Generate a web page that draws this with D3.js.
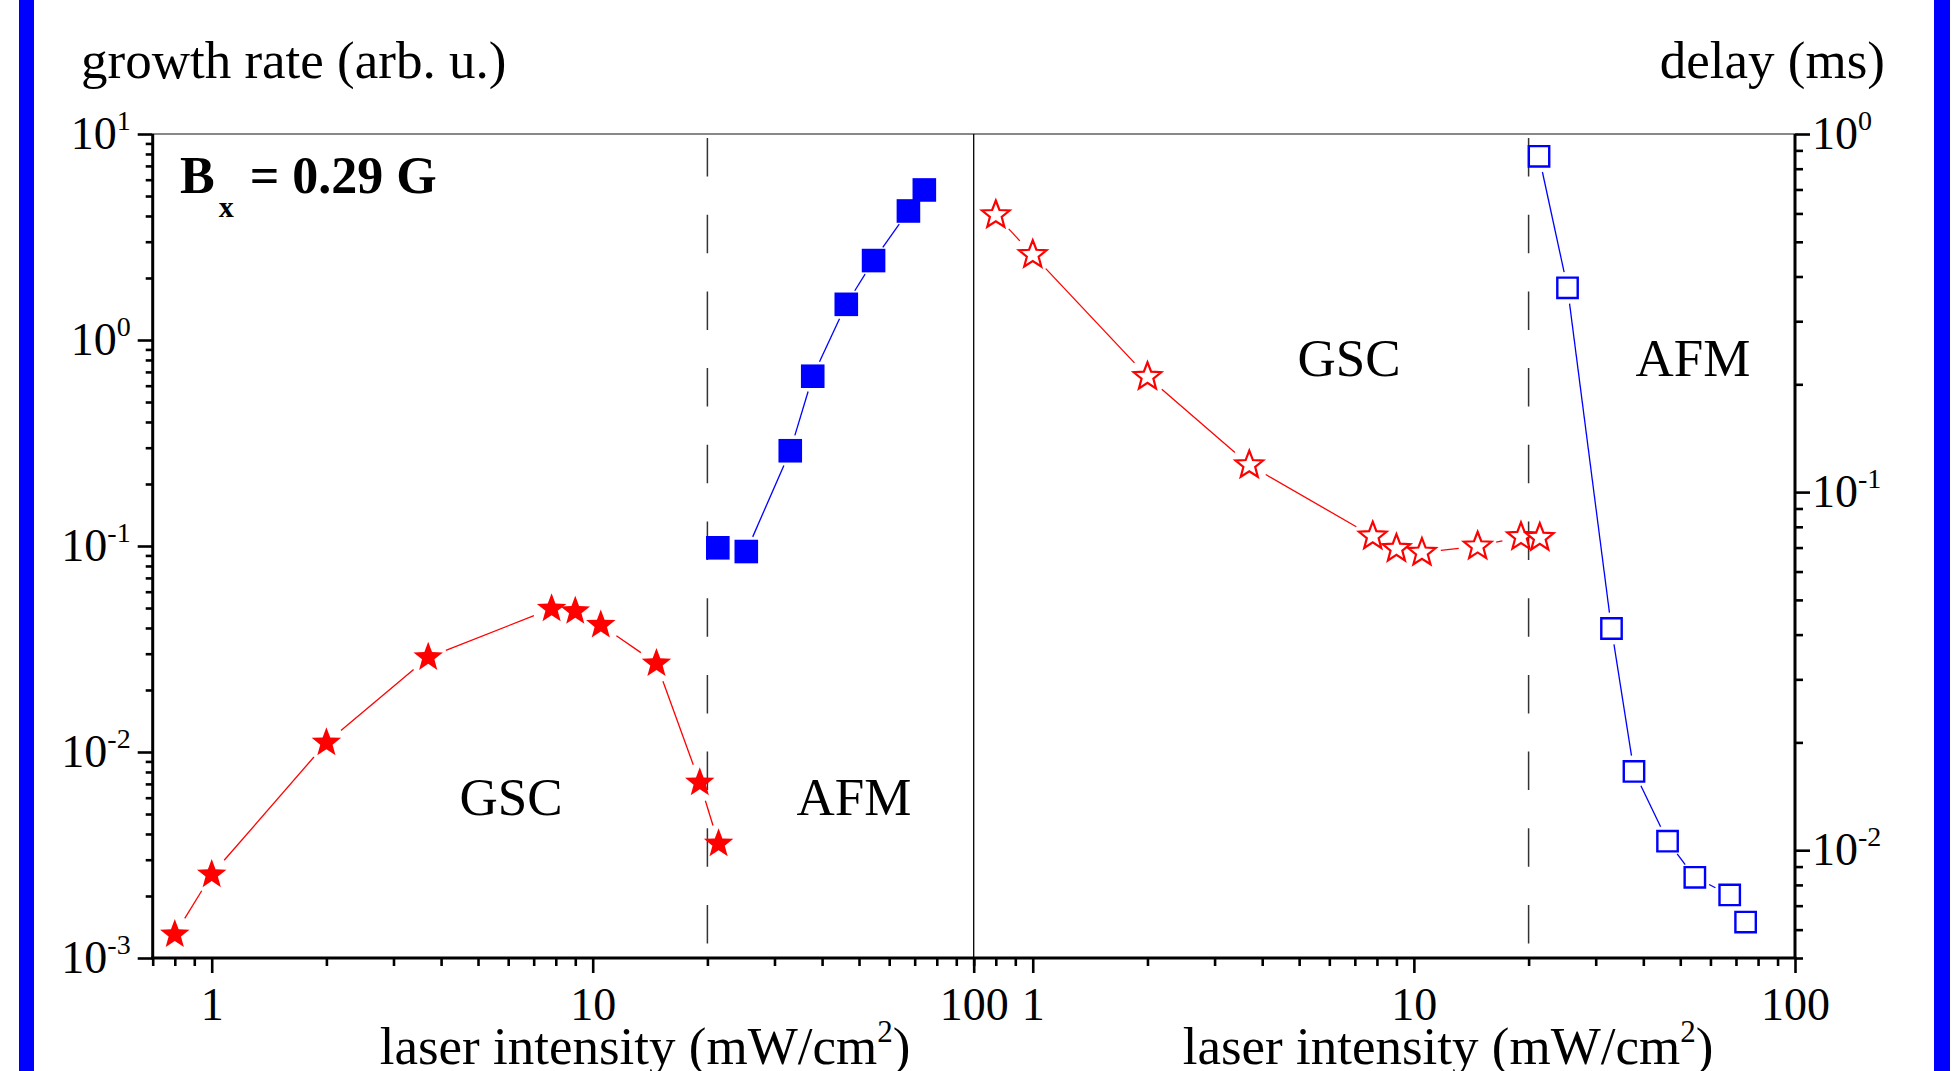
<!DOCTYPE html>
<html>
<head>
<meta charset="utf-8">
<script src="https://cdn.jsdelivr.net/npm/d3@7"></script>
<style>
    body { margin: 0; background: #fff; }
    svg { display: block; }
    text { font-family: "Liberation Serif", "Times New Roman", serif; fill: #000; }
</style>
</head>
<body>
<div id="wrapper"></div>
<script>
// laser intensity (mW/cm^2) of each measured point
const intensityStars = [0.8, 1.0, 2.0, 3.7, 7.8, 9.0, 10.5, 14.7, 19.1, 21.4]
const intensitySquares = [21.3, 25.3, 33.0, 37.8, 46.3, 54.6, 67.4, 74.2]

// left panel: growth rate (arb. u.)
const growthStars = [0.00130, 0.00254, 0.0111, 0.0288, 0.0496, 0.0482, 0.0414, 0.0269, 0.0071, 0.00359]
const growthSquares = [0.098, 0.094, 0.29, 0.667, 1.49, 2.43, 4.23, 5.35]

// right panel: delay (ms)
const delayStars = [0.594, 0.46, 0.21, 0.119, 0.0753, 0.0695, 0.0678, 0.0706, 0.0750, 0.0746]
const delaySquares = [0.866, 0.372, 0.0416, 0.0166, 0.0106, 0.0084, 0.0075, 0.0063]

// ticks
const xMajor = [1, 10, 100]
const xMinor = [0.7, 0.8, 0.9, 2, 3, 4, 5, 6, 7, 8, 9, 20, 30, 40, 50, 60, 70, 80, 90]
const yLeftMajor = [1e-3, 1e-2, 1e-1, 1, 10]
const yRightMajor = [1e-2, 1e-1, 1]
const phaseBoundary = 20

const red = "#ff0000"
const blue = "#0000ff"

function drawChart() {
    const width = 1952
    const height = 1071
    let dimensions = {
        left: 152.7,
        middle: 973.7,
        right: 1795,
        top: 134,
        bottom: 958,
    }

    const parent = d3.select("#wrapper")
    parent.selectAll('*').remove()

    const svg = parent.append("svg")
        .attr("width", width)
        .attr("height", height)

    // blue side bars
    svg.append("rect").attr("x", 19).attr("y", 0).attr("width", 15).attr("height", height).attr("fill", blue)
    svg.append("rect").attr("x", 1934).attr("y", 0).attr("width", 16).attr("height", height).attr("fill", blue)

    const xLeft = d3.scaleLog().domain([0.7, 100]).range([dimensions.left, dimensions.middle])
    const xRight = d3.scaleLog().domain([0.7, 100]).range([dimensions.middle, dimensions.right])
    const yLeft = d3.scaleLog().domain([1e-3, 10]).range([dimensions.bottom, dimensions.top])
    const yRight = d3.scaleLog().domain([0.005, 1]).range([dimensions.bottom, dimensions.top])

    const yLeftMinor = []
    const yRightMinor = []
    ;[1e-3, 1e-2, 1e-1, 1].forEach(p => d3.range(2, 10).forEach(k => yLeftMinor.push(k * p)))
    ;[1e-3, 1e-2, 1e-1].forEach(p => d3.range(2, 10).forEach(k => {
        const v = k * p
        if (v >= 0.005 && v < 1) yRightMinor.push(v)
    }))

    const supLabel = function (sel) {
        sel.selectAll(".tick text").each(function (d) {
            const t = d3.select(this)
            const e = Math.round(Math.log10(d))
            t.text("10")
            t.append("tspan")
                .attr("font-size", 28)
                .attr("dy", -19)
                .text(e)
        })
    }

    const styleAxis = function (g) {
        g.select(".domain").remove()
        g.selectAll(".tick line").attr("stroke", "#000").attr("stroke-width", 2.6)
        g.selectAll(".tick text").attr("font-size", 46).attr("font-family", "Liberation Serif, serif").attr("fill", "#000")
    }

    // bottom axes
    ;[xLeft, xRight].forEach(scale => {
        svg.append("g")
            .attr("transform", `translate(0,${dimensions.bottom})`)
            .call(d3.axisBottom(scale).tickValues(xMinor).tickSize(8).tickFormat(""))
            .call(styleAxis)
        svg.append("g")
            .attr("transform", `translate(0,${dimensions.bottom})`)
            .call(d3.axisBottom(scale).tickValues(xMajor).tickSize(15).tickPadding(14).tickFormat(d3.format("d")))
            .call(styleAxis)
    })

    // left axis
    svg.append("g")
        .attr("transform", `translate(${dimensions.left},0)`)
        .call(d3.axisLeft(yLeft).tickValues(yLeftMinor).tickSize(7).tickFormat(""))
        .call(styleAxis)
    svg.append("g")
        .attr("transform", `translate(${dimensions.left},0)`)
        .call(d3.axisLeft(yLeft).tickValues(yLeftMajor).tickSize(15).tickPadding(7))
        .call(styleAxis)
        .call(supLabel)

    // right axis
    svg.append("g")
        .attr("transform", `translate(${dimensions.right},0)`)
        .call(d3.axisRight(yRight).tickValues(yRightMinor).tickSize(8).tickFormat(""))
        .call(styleAxis)
    svg.append("g")
        .attr("transform", `translate(${dimensions.right},0)`)
        .call(d3.axisRight(yRight).tickValues(yRightMajor).tickSize(15).tickPadding(2))
        .call(styleAxis)
        .call(supLabel)

    // frame
    svg.append("line")
        .attr("x1", dimensions.left).attr("x2", dimensions.right)
        .attr("y1", dimensions.top).attr("y2", dimensions.top)
        .attr("stroke", "#888").attr("stroke-width", 2)
    svg.append("line")
        .attr("x1", dimensions.middle).attr("x2", dimensions.middle)
        .attr("y1", dimensions.top).attr("y2", dimensions.bottom)
        .attr("stroke", "#000").attr("stroke-width", 1.3)
    svg.append("line")
        .attr("x1", dimensions.left - 1.5).attr("x2", dimensions.right + 1.5)
        .attr("y1", dimensions.bottom).attr("y2", dimensions.bottom)
        .attr("stroke", "#000").attr("stroke-width", 3)
    ;[dimensions.left, dimensions.right].forEach(x => {
        svg.append("line")
            .attr("x1", x).attr("x2", x)
            .attr("y1", dimensions.top).attr("y2", dimensions.bottom)
            .attr("stroke", "#000").attr("stroke-width", 3)
    })

    // phase boundary
    ;[xLeft, xRight].forEach(scale => {
        svg.append("line")
            .attr("x1", scale(phaseBoundary)).attr("x2", scale(phaseBoundary))
            .attr("y1", dimensions.top + 4).attr("y2", dimensions.bottom)
            .attr("stroke", "#333").attr("stroke-width", 1.5)
            .attr("stroke-dasharray", "38.5 38.2")
    })

    const starPath = (R, r) => {
        const pts = d3.range(10).map(i => {
            const a = -Math.PI / 2 + i * Math.PI / 5
            const rad = i % 2 === 0 ? R : r
            return [rad * Math.cos(a), rad * Math.sin(a)]
        })
        return "M" + pts.map(p => p.join(",")).join("L") + "Z"
    }

    // connecting lines that stop short of the markers
    const drawSeries = function (xs, ys, xScale, yScale, color, gap, marker) {
        const pts = xs.map((x, i) => [xScale(x), yScale(ys[i])])
        const g = svg.append("g")
        for (let i = 0; i < pts.length - 1; i++) {
            const [x1, y1] = pts[i]
            const [x2, y2] = pts[i + 1]
            const len = Math.hypot(x2 - x1, y2 - y1)
            if (len <= 2 * gap) continue
            const ux = (x2 - x1) / len
            const uy = (y2 - y1) / len
            g.append("line")
                .attr("x1", x1 + ux * gap).attr("y1", y1 + uy * gap)
                .attr("x2", x2 - ux * gap).attr("y2", y2 - uy * gap)
                .attr("stroke", color).attr("stroke-width", 1.3)
        }
        const m = g.selectAll(".m")
            .data(pts)
            .enter()
            .append("path")
            .attr("transform", d => `translate(${d[0]},${d[1]})`)
        marker(m)
    }

    const filledStar = m => m.attr("d", starPath(15.5, 6.5)).attr("fill", red)
    const openStar = m => m.attr("d", starPath(14.5, 6.2)).attr("fill", "#fff").attr("stroke", red).attr("stroke-width", 2.2)
    const filledSquare = m => m.attr("d", "M-11.8,-11.8h23.6v23.6h-23.6Z").attr("fill", blue)
    const openSquare = m => m.attr("d", "M-10.2,-10.2h20.4v20.4h-20.4Z").attr("fill", "#fff").attr("stroke", blue).attr("stroke-width", 2.4)

    drawSeries(intensityStars, growthStars, xLeft, yLeft, red, 19, filledStar)
    drawSeries(intensitySquares, growthSquares, xLeft, yLeft, blue, 16, filledSquare)
    drawSeries(intensityStars, delayStars, xRight, yRight, red, 19, openStar)
    drawSeries(intensitySquares, delaySquares, xRight, yRight, blue, 16, openSquare)

    // titles
    svg.append("text")
        .attr("x", 81).attr("y", 78)
        .attr("font-size", 53)
        .text("growth rate (arb. u.)")
    svg.append("text")
        .attr("x", 1885).attr("y", 78)
        .attr("font-size", 53)
        .attr("text-anchor", "end")
        .text("delay (ms)")

    ;[645, 1448].forEach(cx => {
        const t = svg.append("text")
            .attr("x", cx).attr("y", 1064)
            .attr("font-size", 53)
            .attr("text-anchor", "middle")
        t.append("tspan").text("laser intensity (mW/cm")
        t.append("tspan").attr("font-size", 31).attr("dy", -22).text("2")
        t.append("tspan").attr("dy", 22).text(")")
    })

    const bx = svg.append("text")
        .attr("x", 180).attr("y", 193)
        .attr("font-size", 52)
        .attr("font-weight", "bold")
    bx.append("tspan").text("B")
    bx.append("tspan").attr("font-size", 30).attr("dx", 4).attr("dy", 24).text("x")
    bx.append("tspan").attr("dx", 3).attr("dy", -24).text(" = 0.29 G")

    const regions = [
        { label: "GSC", x: 511, y: 815 },
        { label: "AFM", x: 854, y: 815 },
        { label: "GSC", x: 1349, y: 376 },
        { label: "AFM", x: 1693, y: 376 },
    ]
    svg.selectAll(".region")
        .data(regions)
        .enter()
        .append("text")
        .attr("x", d => d.x)
        .attr("y", d => d.y)
        .attr("font-size", 53)
        .attr("text-anchor", "middle")
        .text(d => d.label)
}

drawChart()
</script>
</body>
</html>
